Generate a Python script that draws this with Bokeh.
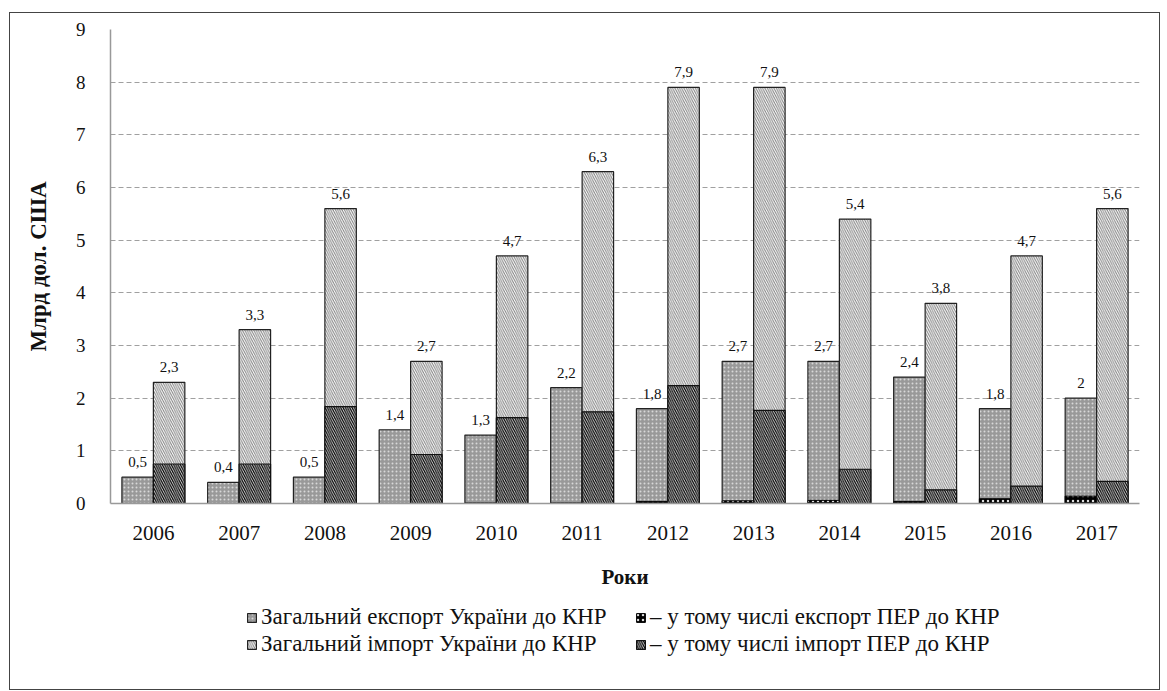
from bokeh.plotting import figure
from bokeh.layouts import column
from bokeh.models import (ColumnDataSource, Range1d, FixedTicker, Legend, LegendItem)
from bokeh.transform import dodge
from bokeh.core.properties import value
from bokeh.embed import file_html
from bokeh.resources import INLINE

years = ["2006", "2007", "2008", "2009", "2010", "2011",
         "2012", "2013", "2014", "2015", "2016", "2017"]
export_total = [0.5, 0.4, 0.5, 1.4, 1.3, 2.2, 1.8, 2.7, 2.7, 2.4, 1.8, 2.0]
import_total = [2.3, 3.3, 5.6, 2.7, 4.7, 6.3, 7.9, 7.9, 5.4, 3.8, 4.7, 5.6]
export_per = [0.0, 0.0, 0.0, 0.0, 0.01, 0.01, 0.04, 0.05, 0.06, 0.04, 0.09, 0.14]
import_per = [0.75, 0.75, 1.84, 0.93, 1.63, 1.74, 2.24, 1.77, 0.65, 0.26, 0.33, 0.42]
export_labels = ["0,5", "0,4", "0,5", "1,4", "1,3", "2,2", "1,8", "2,7", "2,7", "2,4", "1,8", "2"]
import_labels = ["2,3", "3,3", "5,6", "2,7", "4,7", "6,3", "7,9", "7,9", "5,4", "3,8", "4,7", "5,6"]
series_names = ["Загальний експорт України до КНР",
                "Загальний імпорт України до КНР",
                "– у тому числі експорт ПЕР до КНР",
                "– у тому числі імпорт ПЕР до КНР"]
y_ticks = list(range(0, 10))

SERIF = "Liberation Serif"

STY_EXP = dict(fill_color="#999999", line_color="#222222", line_width=1.2,
               hatch_pattern="dot", hatch_color="#d8d8d8", hatch_scale=4, hatch_weight=1)
STY_EXP_PER = dict(fill_color="black", line_color="black", line_width=1,
                   hatch_pattern="dot", hatch_color="#dddddd", hatch_scale=5, hatch_weight=1)
STY_IMP = dict(fill_color="white", line_color="#222222", line_width=1.2,
               hatch_pattern="left_diagonal_line", hatch_color="#808080",
               hatch_scale=4.5, hatch_weight=1)
STY_IMP_PER = dict(fill_color="#000000", line_color="#111111", line_width=1.2,
                   hatch_pattern="left_diagonal_line", hatch_color="#eeeeee",
                   hatch_scale=4.5, hatch_weight=0.9)

src = ColumnDataSource(dict(
    x=list(range(len(years))),
    export_total=export_total, import_total=import_total,
    export_per=export_per, import_per=import_per,
    export_lbl=export_labels, import_lbl=import_labels,
))

W = 1149
p = figure(width=W, height=586, output_backend="svg", toolbar_location=None,
           x_range=Range1d(-0.5, len(years) - 0.5), y_range=Range1d(0, 9),
           min_border_left=100, min_border_right=20, min_border_top=16,
           min_border_bottom=96)
p.outline_line_color = None
p.background_fill_color = "white"
p.border_fill_color = "white"

BW = 0.367
OFF = BW / 2

r_exp = p.vbar(x=dodge("x", -OFF, range=p.x_range), top="export_total", width=BW,
               source=src, **STY_EXP)
r_exp_per = p.vbar(x=dodge("x", -OFF, range=p.x_range), top="export_per", width=BW,
                   source=src, **STY_EXP_PER)
r_imp = p.vbar(x=dodge("x", OFF, range=p.x_range), top="import_total", width=BW,
               source=src, **STY_IMP)
r_imp_per = p.vbar(x=dodge("x", OFF, range=p.x_range), top="import_per", width=BW,
                   source=src, **STY_IMP_PER)

p.text(x=dodge("x", -OFF, range=p.x_range), y="export_total", text="export_lbl", source=src,
       text_align="center", text_baseline="bottom", y_offset=-10,
       text_font=value(SERIF), text_font_size="15px", text_color="#111111")
p.text(x=dodge("x", OFF, range=p.x_range), y="import_total", text="import_lbl", source=src,
       text_align="center", text_baseline="bottom", y_offset=-10,
       text_font=value(SERIF), text_font_size="15px", text_color="#111111")

# axes
p.xaxis.ticker = FixedTicker(ticks=list(range(len(years))))
p.xaxis.major_label_overrides = {i: y for i, y in enumerate(years)}
p.yaxis.ticker = FixedTicker(ticks=y_ticks)
for ax in (p.xaxis[0], p.yaxis[0]):
    ax.major_tick_line_color = None
    ax.minor_tick_line_color = None
    ax.axis_line_color = "#999999"
    ax.axis_line_width = 1.5
    ax.major_label_text_font = SERIF
    ax.major_label_text_color = "#111111"
    ax.axis_label_text_font = SERIF
    ax.axis_label_text_font_style = "bold"
    ax.axis_label_text_color = "#111111"
p.xaxis.major_label_text_font_size = "21px"
p.yaxis.major_label_text_font_size = "19px"
p.xaxis.axis_label_text_font_size = "21px"
p.yaxis.axis_label_text_font_size = "23px"
p.xaxis.axis_label = "Роки"
p.xaxis.major_label_standoff = 16
p.xaxis.axis_label_standoff = 22
p.yaxis.axis_label = "Млрд дол. США"
p.yaxis.major_label_standoff = 19
p.yaxis.axis_label_standoff = 22

p.xgrid.grid_line_color = None
p.ygrid.grid_line_color = "#a0a0a0"
p.ygrid.grid_line_dash = "5 3"
p.ygrid.grid_line_width = 1.2

# legend strip: separate figure whose y range lies far above the data,
# so its copies of the bar renderers only serve the legend swatches
LH = 90
pl = figure(width=W, height=LH, output_backend="svg", toolbar_location=None,
            x_range=Range1d(-0.5, len(years) - 0.5), y_range=Range1d(100, 101),
            x_axis_type=None, y_axis_type=None, min_border=0)
pl.outline_line_color = None
pl.grid.visible = False
l_exp = pl.vbar(x="x", top="export_total", width=BW, source=src, **STY_EXP)
l_imp = pl.vbar(x="x", top="import_total", width=BW, source=src, **STY_IMP)
l_exp_per = pl.vbar(x="x", top="export_per", width=BW, source=src, **STY_EXP_PER)
l_imp_per = pl.vbar(x="x", top="import_per", width=BW, source=src, **STY_IMP_PER)

legend = Legend(items=[
    LegendItem(label=series_names[0], renderers=[l_exp]),
    LegendItem(label=series_names[1], renderers=[l_imp]),
    LegendItem(label=series_names[2], renderers=[l_exp_per]),
    LegendItem(label=series_names[3], renderers=[l_imp_per]),
], orientation="vertical", nrows=2, location=(136, 32),
    label_text_font=SERIF, label_text_font_size="23px", label_text_color="#111111",
    glyph_width=11, glyph_height=11, label_standoff=4, spacing=1,
    padding=2, margin=0, border_line_color=None, background_fill_alpha=0,
    label_height=22, label_width=373)
pl.add_layout(legend, "center")

layout = column(p, pl, spacing=0, margin=(12, 0, 0, 9),
                styles={"border": "1.5px solid #444", "background": "white"})

open("out.html", "w").write(file_html(layout, INLINE))
